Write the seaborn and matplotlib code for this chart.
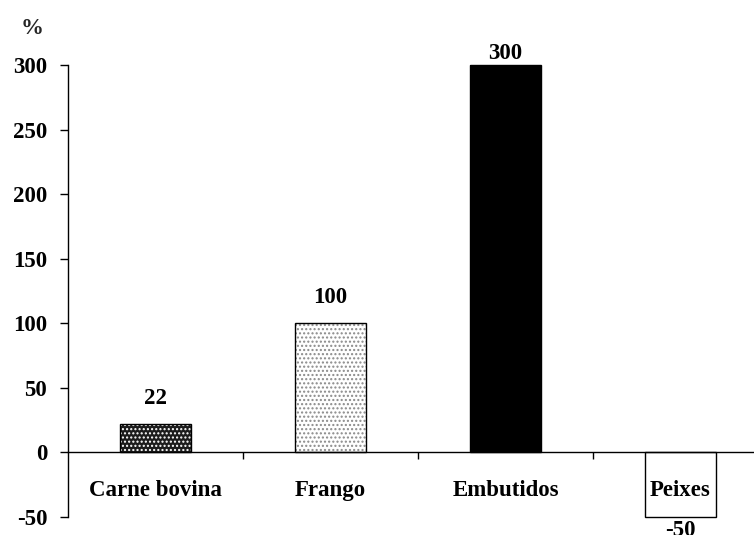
import matplotlib
matplotlib.use("Agg")
import matplotlib.pyplot as plt
import matplotlib.patches as mpatches
import seaborn as sns
import pandas as pd

# Variação percentual por tipo de carne
categorias = ["Carne bovina", "Frango", "Embutidos", "Peixes"]
valores = [22, 100, 300, -50]
rotulos = ["22", "100", "300", "-50"]

# Fill, hatch and hatch colour for each bar
faces = ["#1c1c1c", "white", "black", "white"]
hatches = ["....", "....", None, None]
hatch_cores = ["white", "#8a8a8a", "black", "white"]
label_offsets = [11, 11, 1, -2]

sns.set_theme(style="white")
plt.rcParams["font.family"] = ["Liberation Serif", "DejaVu Serif"]
plt.rcParams["font.weight"] = "bold"
plt.rcParams["hatch.linewidth"] = 1.0

FS = 16.5

df = pd.DataFrame({"categoria": categorias, "valor": valores})

fig = plt.figure(figsize=(7.54, 5.35), dpi=100)
W, H = 754, 535
ax = fig.add_axes([68 / W, 18 / H, (W - 68) / W, 452 / H])

sns.barplot(data=df, x="categoria", y="valor", ax=ax, width=0.41,
            order=categorias, color="white", saturation=1)

bars = list(ax.patches)
for p, fc, h, hc in zip(bars, faces, hatches, hatch_cores):
    p.set_facecolor(fc)
    p.set_edgecolor(hc)
    p.set_linewidth(0)
    if h:
        p.set_hatch(h)
    outline = mpatches.Rectangle(p.get_xy(), p.get_width(), p.get_height(),
                                 facecolor="none", edgecolor="black",
                                 linewidth=1.0, zorder=p.get_zorder() + 0.1,
                                 clip_on=False)
    ax.add_patch(outline)

# Value labels
for p, txt, off in zip(bars, rotulos, label_offsets):
    x = p.get_x() + p.get_width() / 2
    v = p.get_y() + p.get_height()
    va = "bottom" if off > 0 else "top"
    ax.annotate(txt, (x, v), xytext=(0, off), textcoords="offset points",
                ha="center", va=va, fontsize=FS, fontweight="bold",
                color="black", annotation_clip=False)

ax.set_ylim(-50, 300)
ax.set_xlim(-0.5, -0.5 + (W - 68) / 175)
ticks_y = [-50, 0, 50, 100, 150, 200, 250, 300]
ax.set_yticks(ticks_y)
ax.set_yticklabels([str(t) for t in ticks_y], fontsize=FS, fontweight="bold")

for s in ["top", "right"]:
    ax.spines[s].set_visible(False)
ax.spines["left"].set_color("black")
ax.spines["left"].set_linewidth(1.0)
ax.spines["bottom"].set_position(("data", 0))
ax.spines["bottom"].set_color("black")
ax.spines["bottom"].set_linewidth(1.0)
ax.set_axisbelow(False)

ax.tick_params(axis="y", direction="out", length=6, width=1, pad=9,
               left=True, colors="black")
ax.set_xticks(range(len(categorias)))
ax.set_xticklabels(categorias, fontsize=FS, fontweight="bold")
ax.set_xticks([0.5, 1.5, 2.5], minor=True)
ax.tick_params(axis="x", which="major", length=0, pad=20, colors="black")
ax.tick_params(axis="x", which="minor", direction="out", length=5, width=1,
               bottom=True, colors="black")

ax.set_xlabel("")
ax.set_ylabel("")
ax.grid(False)

fig.text(32 / W, 1 - 28 / H, "%", ha="center", va="center",
         fontsize=FS, fontweight="bold")

fig.savefig("out.png", dpi=100)
